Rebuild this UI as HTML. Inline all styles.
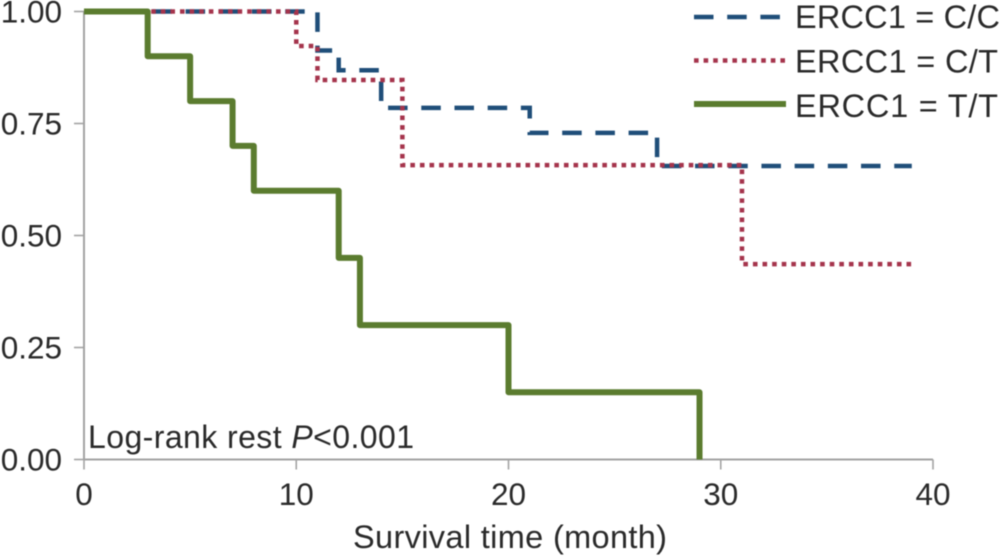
<!DOCTYPE html>
<html lang="en">
<head>
<meta charset="utf-8">
<title>ERCC1 survival curves</title>
<style>
html,body{margin:0;padding:0;background:#fff;}
#chart{display:block;width:1001px;height:556px;font-family:"Liberation Sans",sans-serif;fill:#2a2a2a;filter:blur(0.45px);}
text{font-size:31.5px;}
</style>
</head>
<body>
<svg id="chart" xmlns="http://www.w3.org/2000/svg" width="1001" height="556" viewBox="0 0 1001 556">
  <g id="axes"></g>
  <g id="series"></g>
  <g id="legend"></g>
  <text x="88" y="448" style="font-size:32px" textLength="326" lengthAdjust="spacing">Log-rank rest <tspan font-style="italic">P</tspan>&lt;0.001</text>
  <text x="510" y="548" text-anchor="middle" style="font-size:32.5px" textLength="314" lengthAdjust="spacing">Survival time (month)</text>
</svg>
<script>
const xTicks = [0, 10, 20, 30, 40];
const yTicks = [0, 0.25, 0.5, 0.75, 1];
const yTickLabels = ["0.00", "0.25", "0.50", "0.75", "1.00"];
const endTime = 39;
const ccTimes = [0, 11, 12, 14, 21, 27];
const ccSurvival = [1, 0.913, 0.869, 0.785, 0.729, 0.655];
const ctTimes = [0, 10, 11, 15, 31];
const ctSurvival = [1, 0.923, 0.847, 0.657, 0.436];
const ttTimes = [0, 3, 5, 7, 8, 12, 13, 20, 29];
const ttSurvival = [1, 0.9, 0.8, 0.7, 0.6, 0.45, 0.3, 0.15, 0];
const seriesLabels = ["ERCC1 = C/C", "ERCC1 = C/T", "ERCC1 = T/T"];

const NS = "http://www.w3.org/2000/svg";
const xScale = t => 84 + t * 21.225;
const yScale = s => 459.5 - s * 448;
const axisColor = "#a3a3a3";

function make(parent, tag, attrs, text) {
  const el = document.createElementNS(NS, tag);
  for (const k in attrs) el.setAttribute(k, attrs[k]);
  if (text !== undefined) el.textContent = text;
  parent.appendChild(el);
  return el;
}

const axes = document.getElementById("axes");
const seriesG = document.getElementById("series");
const legend = document.getElementById("legend");

const yAxis = make(axes, "line", {x1: 84, x2: 84, y1: yScale(1), y2: yScale(0), stroke: axisColor, "stroke-width": 2});


const xAxis = make(axes, "line", {x1: xScale(0), x2: xScale(40), y1: yScale(0), y2: yScale(0), stroke: axisColor, "stroke-width": 2});



xTicks.forEach(t => {
  const tick = make(axes, "line", {x1: xScale(t), x2: xScale(t), y1: yScale(0), y2: yScale(0) + 10, stroke: axisColor, "stroke-width": 1.6});
  
  
  const label = make(axes, "text", {x: xScale(t), y: 505, "text-anchor": "middle"}, String(t));
  
  
});

yTicks.forEach((v, i) => {
  const tick = make(axes, "line", {x1: 74, x2: 84, y1: yScale(v), y2: yScale(v), stroke: axisColor, "stroke-width": 1.6});
  
  
  const label = make(axes, "text", {x: 62, y: yScale(v) + 11, "text-anchor": "end"}, yTickLabels[i]);
  
  
});

function stepPath(times, survival) {
  let d = "M" + xScale(times[0]) + " " + yScale(survival[0]);
  for (let i = 1; i < times.length; i++) {
    d += "H" + xScale(times[i]) + "V" + yScale(survival[i]);
  }
  if (survival[survival.length - 1] > 0) d += "H" + xScale(endTime);
  return d;
}

const ccStyle = {stroke: "#1f4e79", "stroke-width": 4.5, "stroke-dasharray": "19.5 13.7", "stroke-dashoffset": -2, fill: "none"};
const ctStyle = {stroke: "#a5344c", "stroke-width": 4.5, "stroke-dasharray": "4.6 5", fill: "none"};
const ttStyle = {stroke: "#5b7c2f", "stroke-width": 6, fill: "none", "stroke-linejoin": "round"};

const ccLine = make(seriesG, "path", Object.assign({d: stepPath(ccTimes, ccSurvival)}, ccStyle));


const ctLine = make(seriesG, "path", Object.assign({d: stepPath(ctTimes, ctSurvival)}, ctStyle));


const ttLine = make(seriesG, "path", Object.assign({d: stepPath(ttTimes, ttSurvival)}, ttStyle));



[ccStyle, ctStyle, ttStyle].forEach((style, i) => {
  const rowY = 17 + i * 43.5;
  const key = make(legend, "line", Object.assign({x1: 694, x2: 786, y1: rowY, y2: rowY}, style, {"stroke-dashoffset": 0}));
  
  
  const label = make(legend, "text", {x: 795, y: 28 + i * 44.5, textLength: i === 0 ? 205 : 203, lengthAdjust: "spacing", style: "font-size:32.5px"}, seriesLabels[i]);
  
  
});
</script>
</body>
</html>
